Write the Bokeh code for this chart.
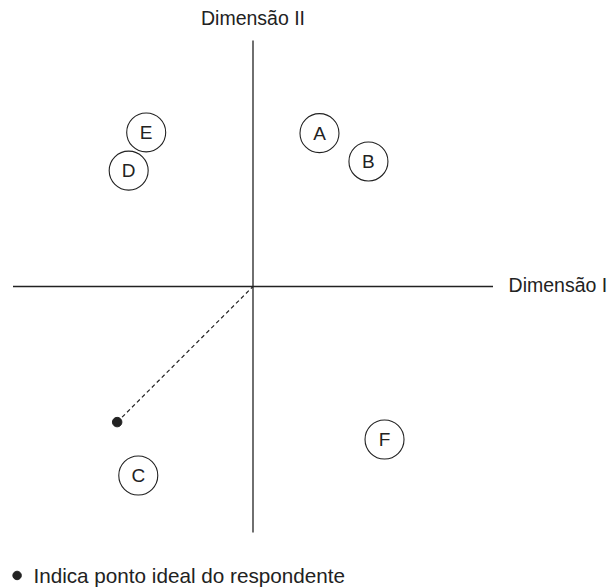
from bokeh.plotting import figure
from bokeh.models import Range1d, ColumnDataSource
from bokeh.core.properties import value
from bokeh.embed import file_html
from bokeh.resources import INLINE

# Data (perceptual map: two dimensions)
brands = ["A", "B", "C", "D", "E", "F"]
dim1 = [2.77, 4.81, -4.78, -5.18, -4.45, 5.48]
dim2 = [6.39, 5.21, -7.875, 4.83, 6.42, -6.375]
ideal_x = [-5.66]
ideal_y = [-5.65]
axis_extent_x = [-10, 10]
axis_extent_y = [-10.25, 10.25]
label_dim1 = "Dimensão I"
label_dim2 = "Dimensão II"
legend_text = "Indica ponto ideal do respondente"

FONT = value("Liberation Sans")
INK = "#222222"

W, H = 612, 587
PPU = 24.0
ox, oy = 252.5, 286.0  # origin position in figure pixels (left, top)

p = figure(width=W, height=H, output_backend="svg", toolbar_location=None,
           x_axis_location=None, y_axis_location=None, min_border=0,
           x_range=Range1d(-ox / PPU, (W - ox) / PPU),
           y_range=Range1d(-(H - oy) / PPU, oy / PPU))
p.grid.visible = False
p.outline_line_color = None
p.background_fill_color = "white"
p.border_fill_color = "white"

# Axes lines
p.segment(x0=[axis_extent_x[0], 0], y0=[0, axis_extent_y[0]],
          x1=[axis_extent_x[1], 0], y1=[0, axis_extent_y[1]],
          line_color=INK, line_width=1.3)

# Dashed line from ideal point to origin
p.segment(x0=ideal_x, y0=ideal_y, x1=[0], y1=[0],
          line_color=INK, line_width=1.2, line_dash="4 3")
p.scatter(x=ideal_x, y=ideal_y, size=9.5, marker="circle",
          fill_color=INK, line_color=INK)

# Brand circles
src = ColumnDataSource(dict(x=dim1, y=dim2, t=brands))
p.scatter(x="x", y="y", source=src, marker="circle", size=39,
          fill_color="white", line_color=INK, line_width=1.1)
p.text(x="x", y="y", text="t", source=src, text_align="center",
       text_baseline="middle", text_font=FONT, text_font_size="19px",
       text_color=INK)

# Axis titles
p.text(x=[0], y=[11.17], text=[label_dim2], text_align="center",
       text_baseline="middle", text_font=FONT, text_font_size="19.5px",
       text_color=INK)
p.text(x=[10.65], y=[0.05], text=[label_dim1], text_align="left",
       text_baseline="middle", text_font=FONT, text_font_size="19.5px",
       text_color=INK)

# Legend note
p.scatter(x=[-9.83], y=[-12.04], size=8.5, marker="circle",
          fill_color=INK, line_color=INK)
p.text(x=[-9.15], y=[-12.04], text=[legend_text], text_align="left",
       text_baseline="middle", text_font=FONT, text_font_size="20.7px",
       text_color=INK)

open("out.html", "w").write(file_html(p, INLINE))
